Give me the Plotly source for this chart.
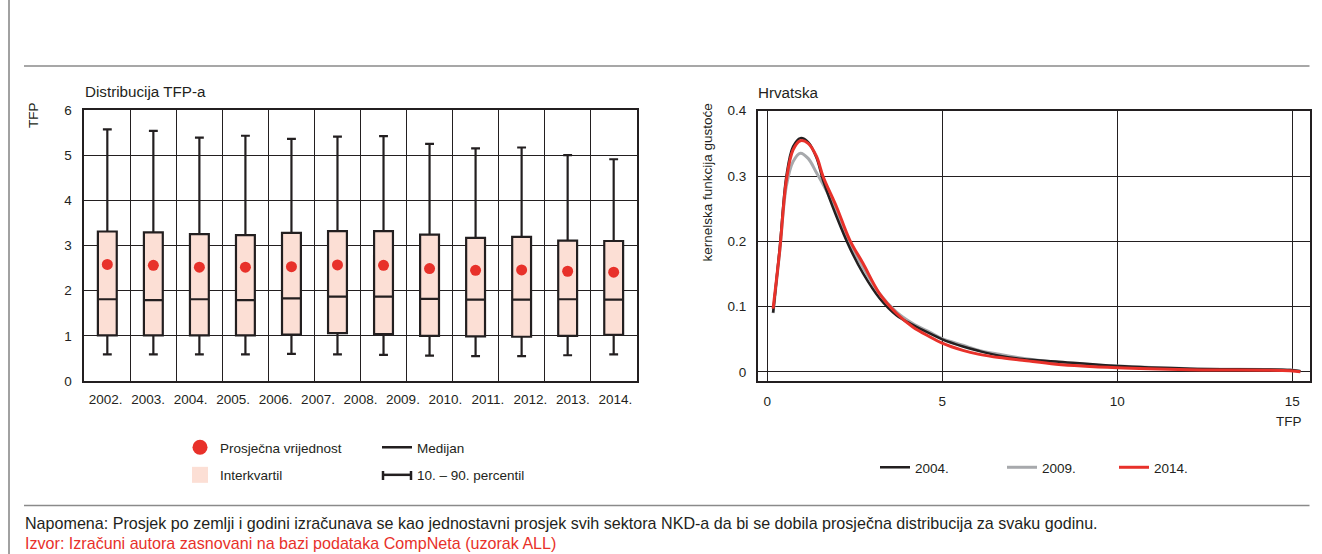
import plotly.graph_objects as go

W, H = 1322, 554


def px(x):
    return x / W


def py(y):
    return 1 - y / H


FONT = "Liberation Sans, Arial, Helvetica, sans-serif"
INK = "#231f20"
RED = "#e8312a"
PINK = "#fcdfd5"

# ---------------- data: left panel (box plots) ----------------
year_labels = ["2002.", "2003.", "2004.", "2005.", "2006.", "2007.", "2008.",
               "2009.", "2010.", "2011.", "2012.", "2013.", "2014."]
box_columns = [1, 2, 3, 4, 5, 6, 7, 8, 9, 10, 11, 12]
p10 = [0.59, 0.59, 0.59, 0.59, 0.60, 0.59, 0.58, 0.56, 0.55, 0.55, 0.57, 0.59]
q1 = [1.01, 1.01, 1.01, 1.01, 1.03, 1.06, 1.04, 1.00, 0.99, 0.98, 1.00, 1.02]
median = [1.81, 1.79, 1.81, 1.79, 1.83, 1.87, 1.87, 1.82, 1.80, 1.80, 1.81, 1.80]
q3 = [3.31, 3.29, 3.25, 3.23, 3.28, 3.32, 3.32, 3.24, 3.17, 3.19, 3.11, 3.10]
p90 = [5.57, 5.54, 5.39, 5.43, 5.36, 5.41, 5.42, 5.25, 5.15, 5.17, 5.00, 4.91]
mean = [2.58, 2.56, 2.52, 2.52, 2.53, 2.57, 2.56, 2.49, 2.45, 2.46, 2.43, 2.41]

# ---------------- data: right panel (kernel densities) ----------------
tfp_x = [0.17, 0.36, 0.55, 0.74, 0.95, 1.17, 1.41, 1.60, 1.98, 2.36, 2.74, 3.21,
         3.69, 4.16, 4.64, 5.00, 5.59, 6.06, 6.63, 7.29, 8.25, 10.0, 12.07,
         14.94, 15.23]
dens_2004 = [0.091, 0.190, 0.300, 0.345, 0.358, 0.352, 0.328, 0.293, 0.238, 0.190,
             0.151, 0.113, 0.087, 0.072, 0.059, 0.050, 0.039, 0.032, 0.025, 0.020,
             0.016, 0.009, 0.005, 0.003, 0.001]
dens_2009 = [0.090, 0.185, 0.285, 0.322, 0.335, 0.327, 0.305, 0.287, 0.247, 0.198,
             0.160, 0.120, 0.092, 0.074, 0.061, 0.051, 0.041, 0.033, 0.027, 0.021,
             0.015, 0.009, 0.005, 0.003, 0.001]
dens_2014 = [0.097, 0.187, 0.294, 0.340, 0.354, 0.350, 0.330, 0.299, 0.253, 0.202,
             0.166, 0.120, 0.090, 0.069, 0.054, 0.044, 0.033, 0.027, 0.022, 0.018,
             0.012, 0.0066, 0.0036, 0.002, 0.0005]

legend_left = ["Prosječna vrijednost", "Interkvartil", "Medijan", "10. – 90. percentil"]

fig = go.Figure()

# box plots
fig.add_trace(go.Box(
    x=box_columns, q1=q1, median=median, q3=q3, lowerfence=p10, upperfence=p90,
    width=0.41, whiskerwidth=0.47, fillcolor=PINK,
    line=dict(color=INK, width=2.2), boxpoints=False,
    xaxis="x", yaxis="y", showlegend=False, hoverinfo="skip"))
fig.add_trace(go.Scatter(
    x=box_columns, y=mean, mode="markers",
    marker=dict(color=RED, size=11), xaxis="x", yaxis="y", showlegend=False))
# invisible trace carrying the year labels axis
fig.add_trace(go.Scatter(
    x=[i + 0.5 for i in range(len(year_labels))], y=[None] * len(year_labels),
    mode="markers", marker=dict(opacity=0), xaxis="x3", yaxis="y",
    showlegend=False, hoverinfo="skip"))

# legend entries of left panel
fig.add_trace(go.Scatter(x=[None], y=[None], mode="markers", name=legend_left[0],
                         marker=dict(color=RED, size=15), legend="legend",
                         xaxis="x", yaxis="y", legendgroup="a"))
fig.add_trace(go.Scatter(x=[None], y=[None], mode="markers", name=legend_left[1],
                         marker=dict(color=PINK, size=16, symbol="square"),
                         legend="legend", xaxis="x", yaxis="y", legendgroup="b"))
fig.add_trace(go.Scatter(x=[None], y=[None], mode="lines", name=legend_left[2],
                         line=dict(color=INK, width=2.5), legend="legend2",
                         xaxis="x", yaxis="y", legendgroup="c"))
fig.add_trace(go.Scatter(x=[None], y=[None], mode="lines", name=legend_left[3],
                         line=dict(color=INK, width=2.5), legend="legend2",
                         xaxis="x", yaxis="y", legendgroup="d"))

# density curves
fig.add_trace(go.Scatter(x=tfp_x, y=dens_2009, mode="lines", name="2009.",
                         line=dict(color="#a7a9ac", width=3, shape="spline"),
                         xaxis="x2", yaxis="y2", legend="legend4"))
fig.add_trace(go.Scatter(x=tfp_x, y=dens_2004, mode="lines", name="2004.",
                         line=dict(color=INK, width=2.5, shape="spline"),
                         xaxis="x2", yaxis="y2", legend="legend3"))
fig.add_trace(go.Scatter(x=tfp_x, y=dens_2014, mode="lines", name="2014.",
                         line=dict(color=RED, width=3, shape="spline"),
                         xaxis="x2", yaxis="y2", legend="legend5"))

tickfont = dict(family=FONT, size=13.5, color=INK)
grid = dict(showgrid=True, gridcolor=INK, gridwidth=1, showline=True, mirror=True,
            linecolor=INK, linewidth=1.5, ticks="", zeroline=False, automargin=False)

legend_common = dict(font=dict(family=FONT, size=13.5, color=INK),
                     bgcolor="rgba(0,0,0,0)", borderwidth=0, xanchor="left",
                     yanchor="top", tracegroupgap=7, itemclick=False,
                     itemdoubleclick=False)

fig.update_layout(
    width=W, height=H, autosize=False, margin=dict(l=0, r=0, t=0, b=0, pad=0),
    paper_bgcolor="white", plot_bgcolor="white",
    font=dict(family=FONT, size=13.5, color=INK),
    xaxis=dict(domain=[px(84.3), px(636.7)], range=[0.5, 12.5], tick0=0.5, dtick=1,
               showticklabels=False, anchor="y", **grid),
    xaxis3=dict(overlaying="x", range=[0, 13], tickmode="array",
                tickvals=[i + 0.5 for i in range(len(year_labels))],
                ticktext=year_labels, tickangle=0, showgrid=False, zeroline=False,
                ticks="", showline=False, side="bottom", anchor="y", tickfont=tickfont,
                ticklabelstandoff=8, automargin=False),
    yaxis=dict(domain=[py(381), py(110)], range=[0, 6], dtick=1, anchor="x",
               tickfont=tickfont, ticklabelstandoff=8, **grid),
    xaxis2=dict(domain=[px(757.7), px(1309.5)], range=[-0.27, 15.49], tickangle=0,
                tickmode="array", tickvals=[0, 5, 10, 15], ticktext=["0", "5", "10", "15"],
                anchor="y2", tickfont=tickfont, ticklabelstandoff=7, **grid),
    yaxis2=dict(domain=[py(381), py(110.7)], range=[-0.0138, 0.4], tickmode="array",
                tickvals=[0, 0.1, 0.2, 0.3, 0.4], ticktext=["0", "0.1", "0.2", "0.3", "0.4"],
                anchor="x2", tickfont=tickfont, ticklabelstandoff=7, **grid),
    legend=dict(x=px(180), y=py(432), orientation="v", **legend_common),
    legend2=dict(x=px(377), y=py(432), orientation="v", **legend_common),
    legend3=dict(x=px(875), y=py(452), orientation="h", **legend_common),
    legend4=dict(x=px(1002), y=py(452), orientation="h", **legend_common),
    legend5=dict(x=px(1114), y=py(452), orientation="h", **legend_common),
    showlegend=True,
)

ann = dict(showarrow=False, xref="paper", yref="paper")
fig.add_annotation(text="Distribucija TFP-a", x=px(83), y=py(91), xanchor="left",
                   yanchor="middle", font=dict(family=FONT, size=15.2, color=INK), **ann)
fig.add_annotation(text="TFP", x=px(33), y=py(115), xanchor="center", yanchor="middle",
                   textangle=-90, font=dict(family=FONT, size=13.5, color=INK), **ann)
fig.add_annotation(text="Hrvatska", x=px(756), y=py(92.5), xanchor="left",
                   yanchor="middle", font=dict(family=FONT, size=15.2, color=INK), **ann)
fig.add_annotation(text="kernelska funkcija gustoće", x=px(707), y=py(182.5),
                   xanchor="center", yanchor="middle", textangle=-90,
                   font=dict(family=FONT, size=13.5, color=INK), **ann)
fig.add_annotation(text="TFP", x=px(1289), y=py(422), xanchor="center", yanchor="middle",
                   font=dict(family=FONT, size=13.5, color=INK), **ann)
fig.add_annotation(text="Napomena: Prosjek po zemlji i godini izračunava se kao jednostavni "
                        "prosjek svih sektora NKD-a da bi se dobila prosječna distribucija "
                        "za svaku godinu.",
                   x=px(23), y=py(523), xanchor="left", yanchor="middle",
                   font=dict(family=FONT, size=16.1, color=INK), **ann)
fig.add_annotation(text="Izvor: Izračuni autora zasnovani na bazi podataka CompNeta (uzorak ALL)",
                   x=px(23), y=py(543), xanchor="left", yanchor="middle",
                   font=dict(family=FONT, size=16.1, color=RED), **ann)

# frame rules
frame = dict(type="line", xref="paper", yref="paper", line=dict(color="#8a8a8a", width=1.6))
fig.add_shape(x0=px(9), x1=px(9), y0=0, y1=1, **frame)
fig.add_shape(x0=px(24), x1=px(1309.5), y0=py(66), y1=py(66), **frame)
fig.add_shape(x0=px(24), x1=px(1309.5), y0=py(505.5), y1=py(505.5), **frame)

# end caps of the "10. – 90. percentil" legend symbol
cap = dict(type="line", xref="paper", yref="paper", line=dict(color=INK, width=2.5))
fig.add_shape(x0=px(383), x1=px(383), y0=py(471), y1=py(480), **cap)
fig.add_shape(x0=px(411), x1=px(411), y0=py(471), y1=py(480), **cap)

fig.write_html(
    "out.html",
    config={"displayModeBar": False},
    post_script="document.documentElement.style.overflow='hidden';"
                "document.body.style.margin='0';document.body.style.overflow='hidden';",
)
